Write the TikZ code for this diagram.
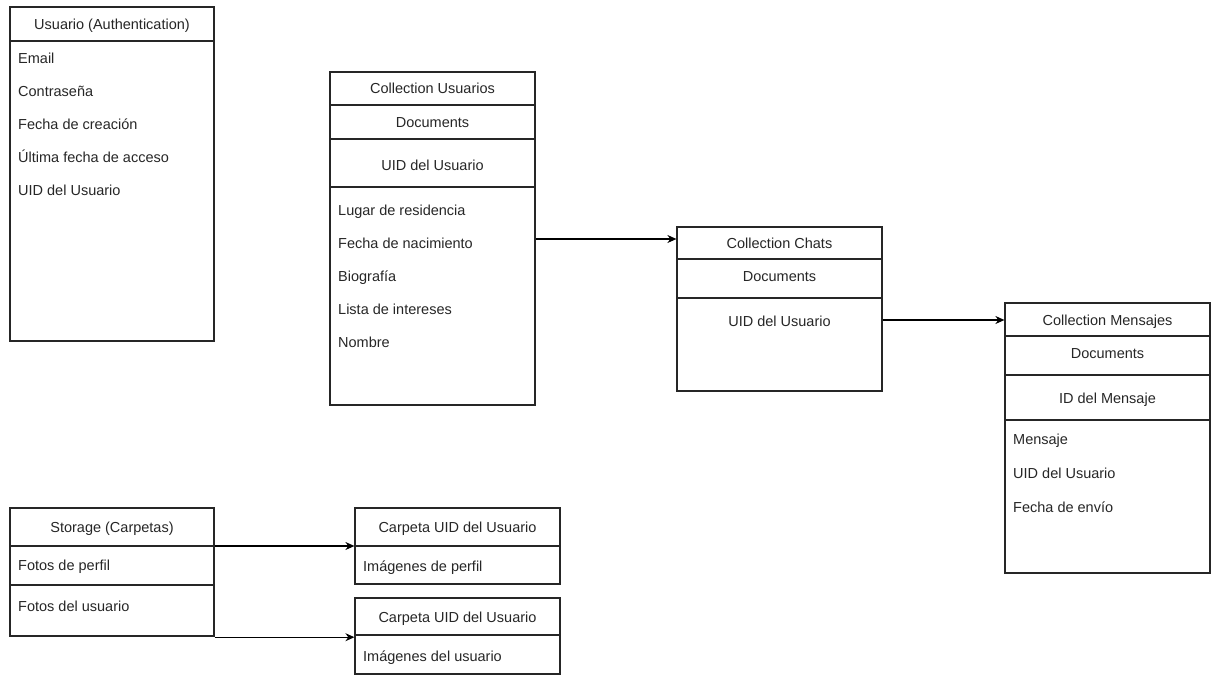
\documentclass[tikz,border=0pt]{standalone}
\usepackage{fontspec}
\setmainfont{Liberation Sans}
\usetikzlibrary{arrows.meta}
\begin{document}
\begin{tikzpicture}[x=1pt,y=-1pt,
  box/.style={draw=black!85, line width=1.2pt, inner sep=0pt},
  hd/.style={font=\fontsize{14.5}{17}\selectfont, text=black!85, inner sep=0pt, text height=12pt, text depth=1pt},
  it/.style={font=\fontsize{14.5}{17}\selectfont, text=black!85, inner sep=0pt, anchor=west, text height=12pt, text depth=1pt},
  sep/.style={draw=black!85, line width=1.2pt},
  arr/.style={draw=black, line width=1.2pt, -{Stealth[length=9pt,width=8pt]}}]
\useasboundingbox (0,0) rectangle (1211,675);
% Usuario (Authentication)
\node[box, minimum width=204, minimum height=334] (auth) at (112,174) {};
\draw[sep] (10,41) -- (214,41);
\node[hd] (authh) at (112,24) {Usuario (Authentication)};
\node[it] (a1) at (18,58) {Email};
\node[it] (a2) at (18,91) {Contraseña};
\node[it] (a3) at (18,124) {Fecha de creación};
\node[it] (a4) at (18,157) {Última fecha de acceso};
\node[it] (a5) at (18,190) {UID del Usuario};
% Collection Usuarios
\node[box, minimum width=205, minimum height=333] (cu) at (432.5,238.5) {};
\draw[sep] (330,105) -- (535,105);
\draw[sep] (330,139) -- (535,139);
\draw[sep] (330,187) -- (535,187);
\node[hd] (cuh) at (432.5,88) {Collection Usuarios};
\node[hd] (cud) at (432.5,122) {Documents};
\node[hd] (cuu) at (432.5,165) {UID del Usuario};
\node[it] (cu1) at (338,210) {Lugar de residencia};
\node[it] (cu2) at (338,243) {Fecha de nacimiento};
\node[it] (cu3) at (338,276) {Biografía};
\node[it] (cu4) at (338,309) {Lista de intereses};
\node[it] (cu5) at (338,342) {Nombre};
% Collection Chats
\node[box, minimum width=205, minimum height=164] (ch) at (779.5,309) {};
\draw[sep] (677,259) -- (882,259);
\draw[sep] (677,298) -- (882,298);
\node[hd] (chh) at (779.5,243) {Collection Chats};
\node[hd] (chd) at (779.5,276) {Documents};
\node[hd] (chu) at (779.5,321) {UID del Usuario};
% Collection Mensajes
\node[box, minimum width=205, minimum height=270] (cm) at (1107.5,438) {};
\draw[sep] (1005,336) -- (1210,336);
\draw[sep] (1005,375) -- (1210,375);
\draw[sep] (1005,420) -- (1210,420);
\node[hd] (cmh) at (1107.5,320) {Collection Mensajes};
\node[hd] (cmd) at (1107.5,353) {Documents};
\node[hd] (cmi) at (1107.5,398) {ID del Mensaje};
\node[it] (cm1) at (1013,439) {Mensaje};
\node[it] (cm2) at (1013,473) {UID del Usuario};
\node[it] (cm3) at (1013,507) {Fecha de envío};
% Storage
\node[box, minimum width=204, minimum height=128] (st) at (112,572) {};
\draw[sep] (10,546) -- (214,546);
\draw[sep] (10,585) -- (214,585);
\node[hd] (sth) at (112,527) {Storage (Carpetas)};
\node[it] (st1) at (18,565) {Fotos de perfil};
\node[it] (st2) at (18,606) {Fotos del usuario};
% Carpeta 1
\node[box, minimum width=205, minimum height=76] (c1) at (457.5,546) {};
\draw[sep] (355,546) -- (560,546);
\node[hd] (c1h) at (457.5,527) {Carpeta UID del Usuario};
\node[it] (c11) at (363,566) {Imágenes de perfil};
% Carpeta 2
\node[box, minimum width=205, minimum height=76] (c2) at (457.5,636) {};
\draw[sep] (355,635) -- (560,635);
\node[hd] (c2h) at (457.5,617) {Carpeta UID del Usuario};
\node[it] (c21) at (363,656) {Imágenes del usuario};
% Connectors
\coordinate (p1) at (0,239);
\coordinate (p2) at (0,320);
\draw[arr] (cu.east |- p1) -- (ch.west |- p1);
\draw[arr] (ch.east |- p2) -- (cm.west |- p2);
\draw[arr] (st.east |- c1.center) -- (c1.west);
\draw[arr] ([yshift=-0.6pt]st.south east) -- ([yshift=-0.6pt]c2.west |- st.south east);
\end{tikzpicture}
\end{document}
